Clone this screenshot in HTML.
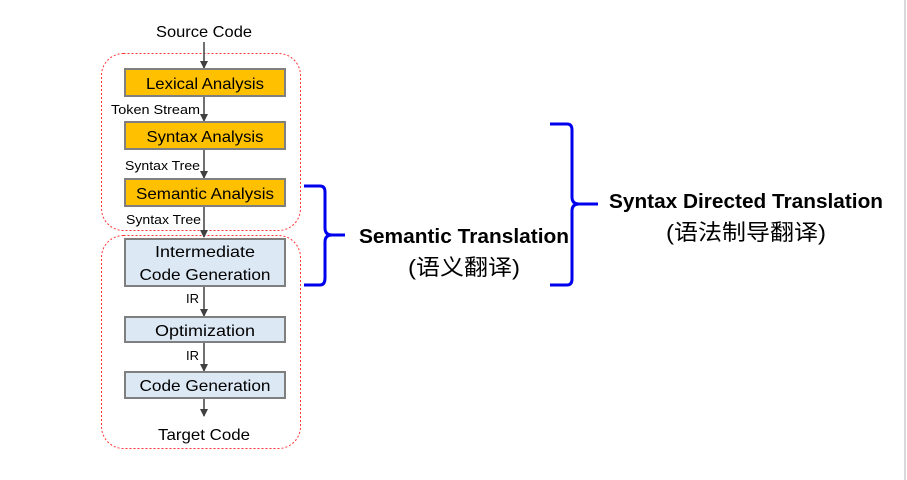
<!DOCTYPE html>
<html><head><meta charset="utf-8"><style>
html,body{margin:0;padding:0;background:#fff;}
svg{display:block;}
text{font-family:"Liberation Sans","Noto Sans CJK SC",sans-serif;fill:#000;}
</style></head><body>
<svg width="907" height="480" viewBox="0 0 907 480" xmlns="http://www.w3.org/2000/svg">
<defs><marker id="a" markerWidth="8" markerHeight="8" refX="7" refY="4" orient="auto" markerUnits="userSpaceOnUse"><path d="M0,0 L8,4 L0,8 z" fill="#404040"/></marker></defs>
<line x1="905" y1="0" x2="905" y2="480" stroke="#d9d9d9" stroke-width="2"/>
<rect x="101.5" y="53.5" width="199" height="177" rx="22" fill="none" stroke="#ff3333" stroke-dasharray="2,2"/>
<rect x="101.5" y="235.5" width="199" height="213" rx="22" fill="none" stroke="#ff3333" stroke-dasharray="2,2"/>
<g stroke="#404040" stroke-width="1.5">
<line x1="204" y1="42" x2="204" y2="68" marker-end="url(#a)"/>
<line x1="204" y1="96" x2="204" y2="121" marker-end="url(#a)"/>
<line x1="204" y1="149" x2="204" y2="178" marker-end="url(#a)"/>
<line x1="204" y1="206" x2="204" y2="237" marker-end="url(#a)"/>
<line x1="204" y1="286" x2="204" y2="316" marker-end="url(#a)"/>
<line x1="204" y1="342" x2="204" y2="371" marker-end="url(#a)"/>
<line x1="204" y1="398" x2="204" y2="416" marker-end="url(#a)"/>
</g>
<g stroke="#7f7f7f" stroke-width="2">
<rect x="125" y="69" width="160" height="27" fill="#ffc000"/>
<rect x="125" y="122" width="160" height="27" fill="#ffc000"/>
<rect x="125" y="179" width="160" height="27" fill="#ffc000"/>
<rect x="125" y="239" width="160" height="47" fill="#dde8f5"/>
<rect x="125" y="317" width="160" height="25" fill="#dde8f5"/>
<rect x="125" y="372" width="160" height="26" fill="#dde8f5"/>
</g>
<g font-size="16" text-anchor="middle">
<text x="204" y="37" textLength="96" lengthAdjust="spacingAndGlyphs">Source Code</text>
<text x="205" y="89" textLength="118" lengthAdjust="spacingAndGlyphs">Lexical Analysis</text>
<text x="205" y="142" textLength="117" lengthAdjust="spacingAndGlyphs">Syntax Analysis</text>
<text x="205" y="199" textLength="138" lengthAdjust="spacingAndGlyphs">Semantic Analysis</text>
<text x="205" y="257" textLength="100" lengthAdjust="spacingAndGlyphs">Intermediate</text>
<text x="205" y="280" textLength="131" lengthAdjust="spacingAndGlyphs">Code Generation</text>
<text x="205" y="336" textLength="100" lengthAdjust="spacingAndGlyphs">Optimization</text>
<text x="205" y="391" textLength="131" lengthAdjust="spacingAndGlyphs">Code Generation</text>
<text x="204" y="440" textLength="92" lengthAdjust="spacingAndGlyphs">Target Code</text>
</g>
<g font-size="13">
<text x="111" y="114" textLength="89" lengthAdjust="spacingAndGlyphs">Token Stream</text>
<text x="125" y="170" textLength="75" lengthAdjust="spacingAndGlyphs">Syntax Tree</text>
<text x="126" y="224" textLength="75" lengthAdjust="spacingAndGlyphs">Syntax Tree</text>
<text x="186" y="303">IR</text>
<text x="186" y="360">IR</text>
</g>
<g fill="none" stroke="#0000ee" stroke-width="3">
<path d="M304,186 H320 Q325,186 325,192 V228 Q325,235 332,235 H345 M332,235 Q325,235 325,242 V278 Q325,285 320,285 H304"/>
<path d="M550,124 H567 Q572,124 572,130 V197 Q572,204 579,204 H598 M579,204 Q572,204 572,211 V279 Q572,285 567,285 H550"/>
</g>
<g text-anchor="middle">
<text x="464" y="243" font-size="20" font-weight="bold" textLength="210" lengthAdjust="spacingAndGlyphs">Semantic Translation</text>
<text x="464" y="275" font-size="22" textLength="112" lengthAdjust="spacingAndGlyphs">(语义翻译)</text>
<text x="746" y="208" font-size="20" font-weight="bold" textLength="274" lengthAdjust="spacingAndGlyphs">Syntax Directed Translation</text>
<text x="746" y="240" font-size="22" textLength="160" lengthAdjust="spacingAndGlyphs">(语法制导翻译)</text>
</g>
</svg>
</body></html>
